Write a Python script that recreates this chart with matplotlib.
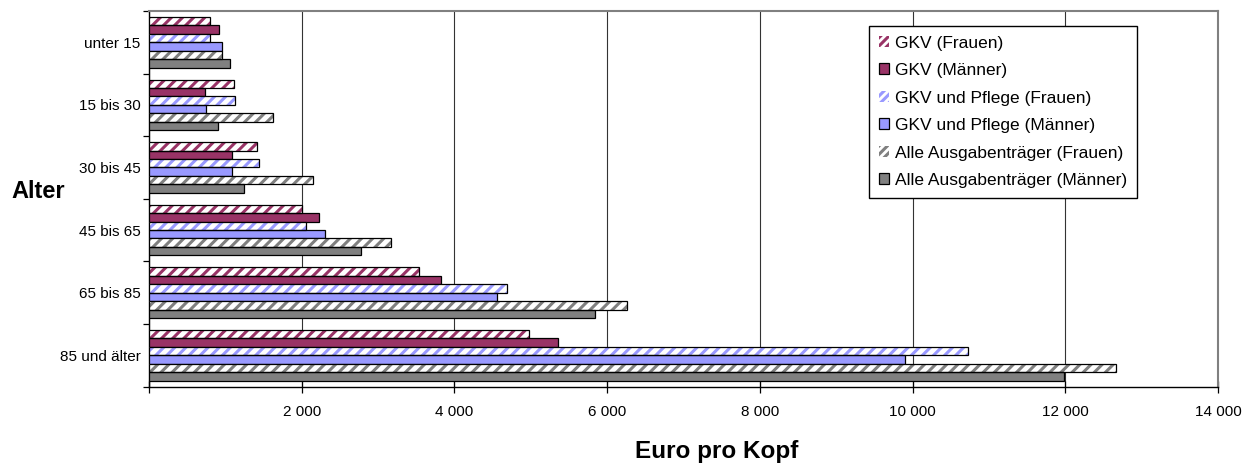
import numpy as np
import matplotlib
matplotlib.use("Agg")
import matplotlib.pyplot as plt
from matplotlib.patches import Patch

plt.rcParams["font.family"] = ["Liberation Sans", "DejaVu Sans"]
plt.rcParams["hatch.linewidth"] = 2.2

# --- data ---------------------------------------------------------------
categories = ["unter 15", "15 bis 30", "30 bis 45", "45 bis 65", "65 bis 85", "85 und älter"]
series_names = [
    "GKV (Frauen)",
    "GKV (Männer)",
    "GKV und Pflege (Frauen)",
    "GKV und Pflege (Männer)",
    "Alle Ausgabenträger (Frauen)",
    "Alle Ausgabenträger (Männer)",
]
gkv_f = [800, 1110, 1420, 2000, 3540, 4980]
gkv_m = [920, 730, 1090, 2220, 3820, 5350]
gkvp_f = [800, 1130, 1440, 2050, 4690, 10730]
gkvp_m = [950, 750, 1090, 2310, 4560, 9900]
alle_f = [950, 1620, 2150, 3170, 6260, 12670]
alle_m = [1060, 910, 1250, 2770, 5840, 11980]
x_ticks = [0, 2000, 4000, 6000, 8000, 10000, 12000, 14000]

series = [gkv_f, gkv_m, gkvp_f, gkvp_m, alle_f, alle_m]
colors = ["#993366", "#993366", "#9999FF", "#9999FF", "#808080", "#808080"]
hatched = [True, False, True, False, True, False]

fig = plt.figure(figsize=(12.47, 4.65), dpi=100)
ax = fig.add_axes([149 / 1247, 1 - 386.5 / 465, (1218 - 149) / 1247, (386.5 - 11) / 465])

n = len(series)
bar_h = 0.135
y0 = np.arange(len(categories))
for i, (vals, c, h) in enumerate(zip(series, colors, hatched)):
    y = y0 - (n - 1) / 2 * bar_h + i * bar_h
    if h:
        ax.barh(y, vals, height=bar_h, color="white", edgecolor=c, hatch="///",
                linewidth=0, zorder=3)
        ax.barh(y, vals, height=bar_h, fill=False, edgecolor="black",
                linewidth=0.9, zorder=4)
    else:
        ax.barh(y, vals, height=bar_h, color=c, edgecolor="black",
                linewidth=0.9, zorder=3)

ax.set_xlim(0, 14000)
ax.set_ylim(len(categories) - 0.5, -0.5)

ax.set_xticks(x_ticks)
ax.set_xticklabels(["" if v == 0 else f"{v:,}".replace(",", " ") for v in x_ticks],
                   fontsize=11)
ax.tick_params(axis="x", direction="inout", length=9, width=0.9, pad=9)
ax.xaxis.grid(True, color="#333333", linewidth=0.8, zorder=0)

ax.set_yticks(y0)
ax.set_yticklabels(categories, fontsize=11)
ax.set_yticks(np.arange(len(categories) + 1) - 0.5, minor=True)
ax.tick_params(axis="y", which="major", length=0, pad=6)
ax.tick_params(axis="y", which="minor", direction="out", length=4, width=0.9)

for side in ("top", "right"):
    ax.spines[side].set_color("#808080")
    ax.spines[side].set_linewidth(1.5)
for side in ("left", "bottom"):
    ax.spines[side].set_color("black")
    ax.spines[side].set_linewidth(1.0)

fig.text(717 / 1247, 1 - 451 / 465, "Euro pro Kopf", ha="center", va="center",
         fontsize=17.5, fontweight="bold")
fig.text(11 / 1247, 1 - 192 / 465, "Alter", ha="left", va="center",
         fontsize=17, fontweight="bold")

handles = []
for name, c, h in zip(series_names, colors, hatched):
    if h:
        handles.append(Patch(facecolor="white", edgecolor=c, hatch="////",
                             linewidth=0, label=name))
    else:
        handles.append(Patch(facecolor=c, edgecolor="black", linewidth=0.9, label=name))

leg = fig.legend(handles=handles, loc="upper left",
                 bbox_to_anchor=(869 / 1247, 1 - 26 / 465),
                 fontsize=12.5, frameon=True, fancybox=False, framealpha=1,
                 edgecolor="black", handlelength=0.6, handleheight=0.6,
                 handletextpad=0.35, labelspacing=0.72, borderpad=0.55,
                 borderaxespad=0)
leg.get_frame().set_linewidth(1.0)

fig.savefig("out.png", dpi=100)
